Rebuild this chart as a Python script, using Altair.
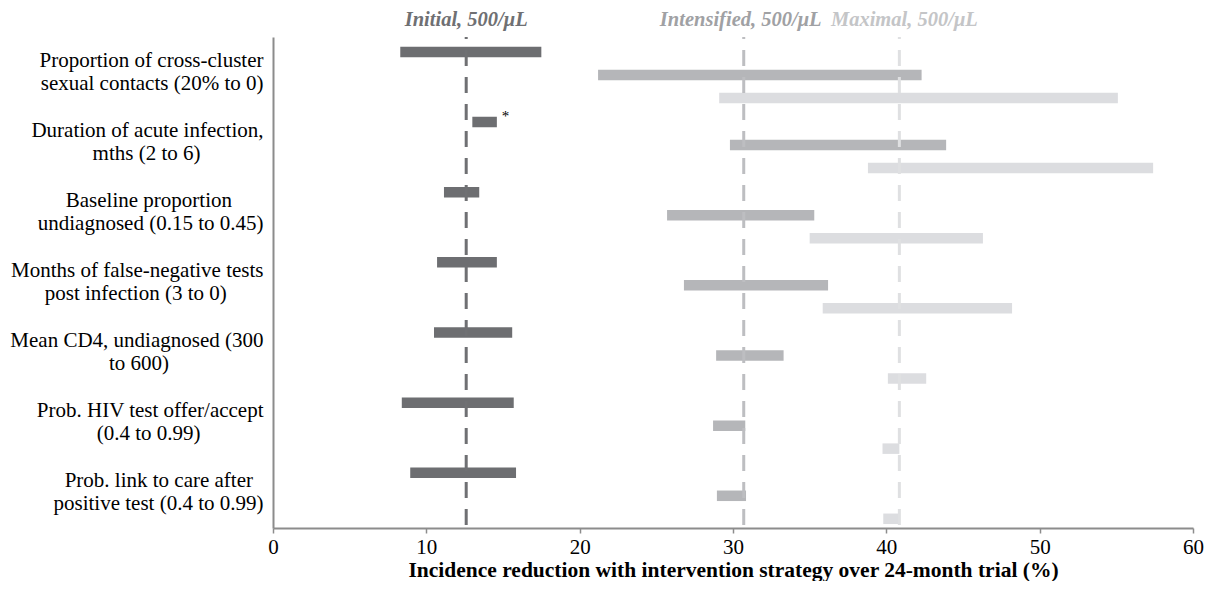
import altair as alt
import pandas as pd

NB = "\u00a0"
WJ = "\u2060"

# Category labels (two lines each); NBSP padding centres the shorter line
label_lines = [
    ("Proportion of cross-cluster", "sexual contacts (20% to 0)"),
    ("Duration of acute infection,", "mths (2 to 6)"),
    ("Baseline proportion", "undiagnosed (0.15 to 0.45)"),
    ("Months of false-negative tests", "post infection (3 to 0)"),
    ("Mean CD4, undiagnosed (300", "to 600)"),
    ("Prob. HIV test offer/accept", "(0.4 to 0.99)"),
    ("Prob. link to care after", "positive test (0.4 to 0.99)"),
]
pad_line1 = [0, 0, 6, 0, 0, 0, 2]
pad_line2 = [0, 12, 0, 7, 18, 12, 0]

strategies = ["Initial", "Intensified", "Maximal"]
header_texts = ["Initial, 500/\u03bcL", "Intensified, 500/\u03bcL", "Maximal, 500/\u03bcL"]

# Range of incidence reduction (%) per parameter, per strategy
initial_lo = [8.3, 13.0, 11.15, 10.7, 10.5, 8.4, 8.95]
initial_hi = [17.5, 14.6, 13.45, 14.6, 15.6, 15.7, 15.85]
intens_lo = [21.2, 29.8, 25.7, 26.8, 28.9, 28.7, 28.95]
intens_hi = [42.3, 43.9, 35.3, 36.2, 33.3, 30.8, 30.85]
maximal_lo = [29.1, 38.8, 35.0, 35.85, 40.1, 39.75, 39.8]
maximal_hi = [55.1, 57.4, 46.3, 48.2, 42.6, 40.85, 40.9]

# Base-case reduction per strategy (dashed lines)
base_values = [12.6, 30.7, 40.85]

x_ticks = [0, 10, 20, 30, 40, 50, 60]

bar_colors = ["#6d6e71", "#b5b6b9", "#dcdde0"]
rule_colors = ["#6f7073", "#bdbec1", "#dfe0e2"]
header_colors = ["#6f7073", "#a0a1a4", "#c4c5c7"]
header_dx = [0, -3, 5]


def padded(text, n):
    return text + (NB * n + WJ if n else "")


categories = [
    padded(l1, p1) + "|" + padded(l2, p2)
    for (l1, l2), p1, p2 in zip(label_lines, pad_line1, pad_line2)
]

rows = []
for s, lo, hi in zip(strategies,
                     [initial_lo, intens_lo, maximal_lo],
                     [initial_hi, intens_hi, maximal_hi]):
    for c, a, b in zip(categories, lo, hi):
        rows.append({"category": c, "strategy": s, "lo": a, "hi": b})
df = pd.DataFrame(rows)

FONT = "Liberation Serif"
AXIS_GRAY = "#8c8c8c"
W, H = 920, 491

x_enc = alt.X(
    "lo:Q",
    scale=alt.Scale(domain=[0, 60], nice=False, zero=False),
    axis=alt.Axis(
        values=x_ticks, grid=False, tickSize=5, tickWidth=1.5, tickColor=AXIS_GRAY,
        domainColor=AXIS_GRAY, domainWidth=2, labelFont=FONT, labelFontSize=21,
        labelColor="black", labelPadding=3, labelFlush=False,
        title="Incidence reduction with intervention strategy over 24-month trial (%)",
        titleFont=FONT, titleFontSize=21.5, titleFontWeight="bold", titleColor="black",
        titlePadding=2,
    ),
)
y_enc = alt.Y(
    "category:N", sort=categories,
    scale=alt.Scale(domain=categories, paddingInner=0, paddingOuter=0),
    axis=alt.Axis(
        title=None, ticks=False, domainColor=AXIS_GRAY, domainWidth=2,
        labelExpr="split(datum.label, '|')", labelFont=FONT, labelFontSize=21,
        labelLineHeight=23, labelPadding=10, labelAlign="right", labelColor="black",
        labelLimit=500, labelOffset=-11.5,
    ),
)
yoff_enc = alt.YOffset(
    "strategy:N", sort=strategies,
    scale=alt.Scale(domain=strategies, paddingInner=0.543, paddingOuter=0.296, align=0.71),
)

bars = alt.Chart(df).mark_bar().encode(
    x=x_enc,
    x2="hi:Q",
    y=y_enc,
    yOffset=yoff_enc,
    color=alt.Color("strategy:N", scale=alt.Scale(domain=strategies, range=bar_colors), legend=None),
)

layers = [bars]
for s, v, rc, ht, hc, hdx in zip(strategies, base_values, rule_colors, header_texts, header_colors, header_dx):
    d = pd.DataFrame({"strategy": [s], "value": [v], "label": [ht]})
    rule = alt.Chart(d).mark_rule(
        color=rc, strokeWidth=3, strokeDash=[16, 11], strokeDashOffset=14
    ).encode(x="value:Q", y=alt.value(0), y2=alt.value(H))
    head = alt.Chart(d).mark_text(
        font=FONT, fontSize=20.5, fontWeight="bold", fontStyle="italic", color=hc,
        align="center", baseline="alphabetic", dx=hdx,
    ).encode(x="value:Q", y=alt.value(-11), text="label:N")
    layers += [rule, head]

# Asterisk note on the duration-of-acute-infection bar (Initial)
note_df = pd.DataFrame({"category": [categories[1]], "strategy": ["Initial"],
                        "pos": [initial_hi[1]], "note": ["*"]})
note = alt.Chart(note_df).mark_text(
    font=FONT, fontSize=15, align="left", baseline="middle", dx=5, dy=-6, color="black"
).encode(
    x="pos:Q",
    y=alt.Y("category:N", sort=categories),
    yOffset=alt.YOffset("strategy:N", sort=strategies),
    text="note:N",
)
layers.append(note)

chart = alt.layer(*layers).properties(
    width=W, height=H,
    autosize="none",
    padding={"left": 265, "top": 29, "right": 14, "bottom": 53},
).configure(font=FONT, background="white").configure_view(stroke=None, strokeWidth=0)

chart.save("out.html", embed_options={"renderer": "svg", "actions": False})
